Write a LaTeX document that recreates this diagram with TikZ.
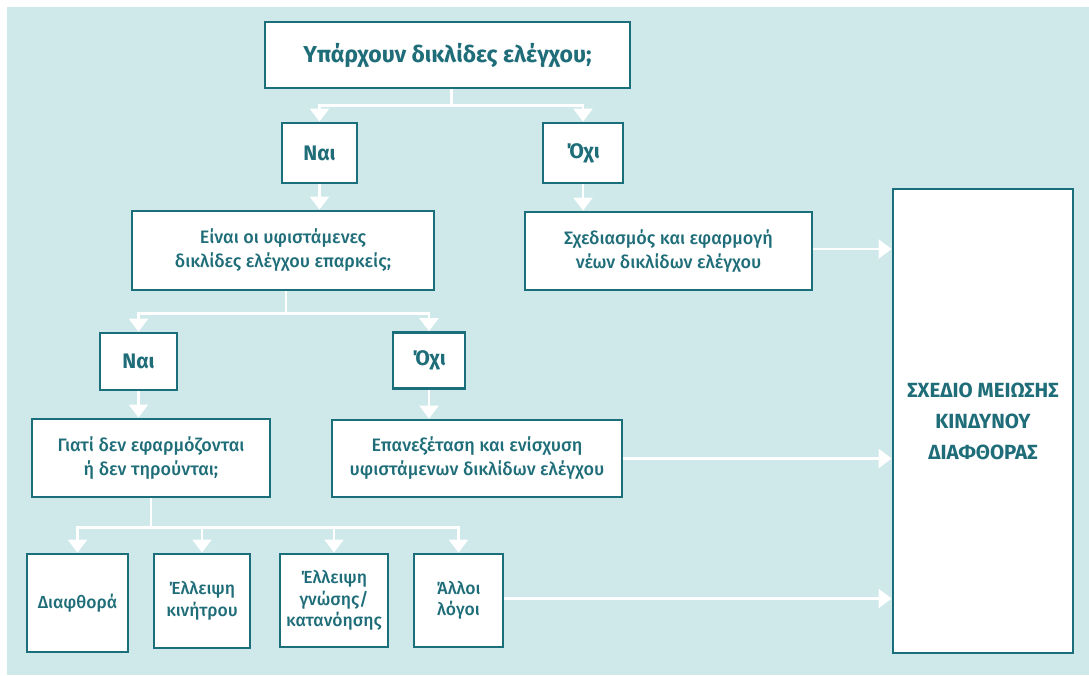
\documentclass[tikz,border=0pt]{standalone}
\usepackage{fontspec}
\setmainfont{Fira Sans}
\newfontfamily\medfont{Fira Sans Medium}
\usetikzlibrary{arrows.meta}
\definecolor{bgc}{HTML}{CFE8EA}
\definecolor{teal}{HTML}{1B6F7B}
\definecolor{tealtxt}{HTML}{1E6D78}
\tikzset{
  box/.style={draw=teal, line width=2.8pt, fill=white, text=tealtxt, align=center, inner sep=0pt, font=\medfont\fontsize{18}{24}\selectfont},
  hbox/.style={box, font=\bfseries\fontsize{23}{26}\selectfont},
  yn/.style={box, font=\bfseries\fontsize{21}{24}\selectfont},
  smallbox/.style={box, font=\medfont\fontsize{17.5}{21.5}\selectfont},
  bigbox/.style={box, font=\bfseries\fontsize{20.5}{31}\selectfont},
  conn/.style={draw=white, line width=2.6pt, -{Triangle[width=19pt,length=13pt]}},
  line/.style={draw=white, line width=2.6pt}
}
\begin{document}
\begin{tikzpicture}[x=1pt,y=-1pt]
\fill[white] (0,0) rectangle (1089,675);
\fill[bgc] (7,7) rectangle (1089,675);
\useasboundingbox (0,0) rectangle (1089,675);

\node[hbox, minimum width=365pt, minimum height=66pt] (top) at (447.5,55) {Υπάρχουν δικλίδες ελέγχου;};
\node[yn, minimum width=75pt, minimum height=60pt] (n1) at (319.5,153) {Ναι};
\node[yn, minimum width=80pt, minimum height=60pt] (o1) at (583,153) {Όχι};
\node[box, minimum width=302pt, minimum height=79pt] (q2) at (283,250.5) {Είναι οι υφιστάμενες\\δικλίδες ελέγχου επαρκείς;};
\node[box, minimum width=287pt, minimum height=78pt] (s1) at (668.5,251) {Σχεδιασμός και εφαρμογή\\νέων δικλίδων ελέγχου};
\node[bigbox, minimum width=180pt, minimum height=464pt] (big) at (983,421) {ΣΧΕΔΙΟ ΜΕΙΩΣΗΣ\\ΚΙΝΔΥΝΟΥ\\ΔΙΑΦΘΟΡΑΣ};
\node[yn, minimum width=77pt, minimum height=57pt] (n2) at (138.5,361.5) {Ναι};
\node[yn, minimum width=72pt, minimum height=56pt] (o2) at (429,360.5) {Όχι};
\node[box, minimum width=238pt, minimum height=78pt] (why) at (151,458) {Γιατί δεν εφαρμόζονται\\ή δεν τηρούνται;};
\node[box, minimum width=290pt, minimum height=77pt] (rev) at (477,458.5) {Επανεξέταση και ενίσχυση\\υφιστάμενων δικλίδων ελέγχου};
\node[smallbox, minimum width=101pt, minimum height=98pt] (b1) at (77.5,603) {Διαφθορά};
\node[smallbox, minimum width=96pt, minimum height=94pt] (b2) at (202,601) {Έλλειψη\\κινήτρου};
\node[smallbox, minimum width=108pt, minimum height=93pt] (b3) at (334,600.5) {Έλλειψη\\γνώσης/\\κατανόησης};
\node[smallbox, minimum width=89pt, minimum height=93pt] (b4) at (458.5,600.5) {Άλλοι\\λόγοι};

\coordinate (j1) at ([xshift=4pt,yshift=-16pt]top.south);
\draw[line] (j1 |- top.south) -- (j1);
\draw[conn] (j1) -| (n1.north);
\draw[conn] (j1) -| (o1.north);
\draw[conn] (n1.south) -- (q2.north -| n1.south);
\draw[conn] (o1.south) -- (s1.north -| o1.south);

\coordinate (j2) at ([xshift=3pt,yshift=-22pt]q2.south);
\draw[line] (j2 |- q2.south) -- (j2);
\draw[conn] (j2) -| (n2.north);
\draw[conn] (j2) -| (o2.north);
\draw[conn] (n2.south) -- (why.north -| n2.south);
\draw[conn] (o2.south) -- (rev.north -| o2.south);

\coordinate (j3) at ([yshift=-29pt]why.south);
\draw[line] (why.south) -- (j3);
\draw[conn] (j3) -| (b1.north);
\draw[conn] (j3) -| (b2.north);
\draw[conn] (j3) -| (b3.north);
\draw[conn] (j3) -| (b4.north);

\draw[conn] ([yshift=2pt]s1.east) -- ([yshift=2pt]s1.east -| big.west);
\draw[conn] (rev.east) -- (rev.east -| big.west);
\draw[conn] ([yshift=2pt]b4.east) -- ([yshift=2pt]b4.east -| big.west);
\end{tikzpicture}
\end{document}
